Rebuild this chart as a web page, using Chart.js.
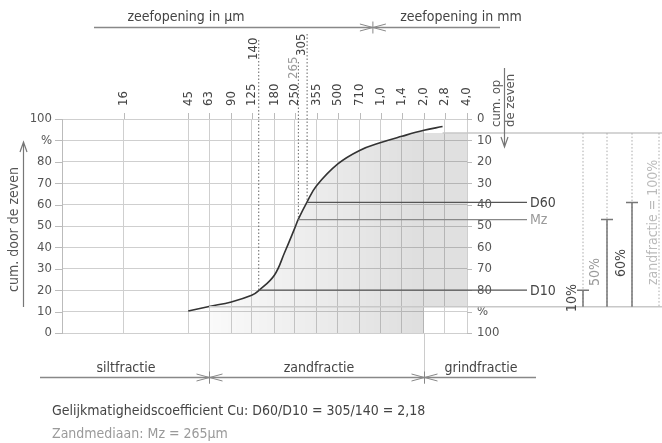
<!DOCTYPE html>
<html>
<head>
<meta charset="utf-8">
<script src="https://cdn.jsdelivr.net/npm/chart.js@4.4.1/dist/chart.umd.min.js"></script>
<style>
  body { margin: 0; background: #fff; }
  #wrap { width: 662px; height: 443px; position: relative; }
</style>
</head>
<body>
<div id="wrap"><canvas id="korrel"></canvas></div>
<script>
// zeefmaten (µm) en labels op de bovenas
const sieveSizes = [16, 45, 63, 90, 125, 180, 250, 355, 500, 710, 1000, 1400, 2000, 2800, 4000]
const sieveLabels = ['16', '45', '63', '90', '125', '180', '250', '355', '500', '710', '1,0', '1,4', '2,0', '2,8', '4,0']

// zeefkromme: cum. door de zeven (%)
const curveSize = [45, 63, 90, 125, 140, 180, 212, 250, 265, 305, 355, 500, 710, 1000, 1400, 2000, 2700]
const curvePassing = [10.3, 12.4, 14.5, 17.6, 19.8, 27, 37.5, 49, 53.2, 61.3, 68.8, 79, 85.3, 89, 91.9, 94.7, 96.5]

// karakteristieke korrelgroottes
const dNames = ['D10', 'Mz', 'D60']
const dSizes = [140, 265, 305]
const dPassing = [20, 53, 61]

// zandfractie kader (in % door de zeven)
const sandBottom = 12.3
const sandTop = 93.4
const barLabels = ['10%', '50%', '60%']
const barTops = [20, 53, 61]

const leftLabels = ['0', '10', '20', '30', '40', '50', '60', '70', '80', '%', '100']
const rightLabels = ['100', '%', '80', '70', '60', '50', '40', '30', '20', '10', '0']
const yTicks = [0, 10, 20, 30, 40, 50, 60, 70, 80, 90, 100]

const FONT = '"Liberation Sans Narrow", "DejaVu Sans Condensed", "Roboto", sans-serif'
const DARK = '#444'
const GREY = '#9a9a9a'

const font = (size) => size + 'px ' + FONT

function mark(ctx, x, y) {
  ctx.beginPath()
  ctx.moveTo(x, y - 6); ctx.lineTo(x, y + 6)
  ctx.moveTo(x - 13, y - 3.5); ctx.lineTo(x, y); ctx.lineTo(x - 13, y + 3.5)
  ctx.moveTo(x + 13, y - 3.5); ctx.lineTo(x, y); ctx.lineTo(x + 13, y + 3.5)
  ctx.stroke()
}

function vtext(ctx, txt, x, y, color, size) {
  ctx.save()
  ctx.translate(x, y)
  ctx.rotate(-Math.PI / 2)
  ctx.fillStyle = color
  ctx.font = font(size)
  ctx.textAlign = 'left'
  ctx.textBaseline = 'middle'
  ctx.fillText(txt, 0, 0)
  ctx.restore()
}

const drawing = {
  id: 'drawing',
  afterDatasetsDraw(chart) {
    const { ctx, chartArea: a, scales: { x, y } } = chart
    ctx.save()

    // tickjes rond de grafiek
    ctx.strokeStyle = '#bbb'
    ctx.lineWidth = 1
    ctx.beginPath()
    sieveSizes.forEach(v => {
      const px = Math.round(x.getPixelForValue(v)) + 0.5
      ctx.moveTo(px, a.top - 6); ctx.lineTo(px, a.top)
    })
    yTicks.forEach(v => {
      const py = Math.round(y.getPixelForValue(v)) + 0.5
      ctx.moveTo(a.left - 7, py); ctx.lineTo(a.left, py)
      ctx.moveTo(a.right, py); ctx.lineTo(a.right + 5, py)
    })
    ctx.stroke()

    // zeefmaten boven
    sieveSizes.forEach((v, i) => {
      vtext(ctx, sieveLabels[i], x.getPixelForValue(v), a.top - 13, DARK, 13)
    })

    // y labels links en rechts
    ctx.font = font(13)
    ctx.textBaseline = 'middle'
    yTicks.forEach((v, i) => {
      const py = y.getPixelForValue(v)
      ctx.fillStyle = '#555'
      ctx.textAlign = 'right'
      ctx.fillText(leftLabels[i], a.left - 10, py)
      ctx.textAlign = 'left'
      ctx.fillText(rightLabels[i], a.right + 10, py)
    })

    // gestippelde lijnen D10, Mz, D60
    const dTop = [40, 62, 34]
    const dLabelY = [60, 79, 56]
    ctx.setLineDash([1.5, 2])
    ctx.strokeStyle = '#666'
    dSizes.forEach((v, i) => {
      const px = x.getPixelForValue(v)
      ctx.beginPath()
      ctx.moveTo(px, dTop[i]); ctx.lineTo(px, y.getPixelForValue(dPassing[i]))
      ctx.stroke()
      vtext(ctx, String(v), px - 5, dLabelY[i], i === 1 ? GREY : DARK, 13)
    })
    ctx.setLineDash([])

    // horizontale lijnen naar D-labels
    ctx.lineWidth = 1.2
    dSizes.forEach((v, i) => {
      const py = y.getPixelForValue(dPassing[i])
      ctx.strokeStyle = i === 1 ? '#888' : '#555'
      ctx.beginPath()
      ctx.moveTo(x.getPixelForValue(v), py); ctx.lineTo(527, py)
      ctx.stroke()
      ctx.fillStyle = i === 1 ? GREY : DARK
      ctx.font = font(14)
      ctx.textAlign = 'left'
      ctx.fillText(dNames[i], 530, py + 1)
    })

    // zandfractie kader rechts
    const yb = y.getPixelForValue(sandBottom)
    const yt = y.getPixelForValue(sandTop)
    ctx.strokeStyle = '#c8c8c8'
    ctx.lineWidth = 1.5
    ctx.beginPath()
    ctx.moveTo(x.getPixelForValue(63), yb); ctx.lineTo(662, yb)
    ctx.moveTo(x.getPixelForValue(2700), yt); ctx.lineTo(662, yt)
    ctx.stroke()

    const barX = [583, 607, 632, 659]
    ctx.setLineDash([1.5, 2])
    ctx.strokeStyle = '#aaa'
    ctx.lineWidth = 1
    barX.forEach(bx => {
      ctx.beginPath(); ctx.moveTo(bx, yt); ctx.lineTo(bx, yb); ctx.stroke()
    })
    ctx.setLineDash([])
    ctx.strokeStyle = '#777'
    ctx.lineWidth = 1.5
    barTops.forEach((v, i) => {
      const py = y.getPixelForValue(v)
      ctx.beginPath()
      ctx.moveTo(barX[i], yb); ctx.lineTo(barX[i], py)
      ctx.moveTo(barX[i] - 6, py); ctx.lineTo(barX[i] + 6, py)
      ctx.stroke()
    })
    vtext(ctx, barLabels[0], 572, 312, DARK, 14)
    vtext(ctx, barLabels[1], 595, 286, GREY, 14)
    vtext(ctx, barLabels[2], 621, 277, DARK, 14)
    vtext(ctx, 'zandfractie = 100%', 653, 285, '#bbb', 14)

    // aslabels
    vtext(ctx, 'cum. door de zeven', 14, 292, '#555', 14)
    vtext(ctx, 'cum. op', 497, 127, '#555', 13)
    vtext(ctx, 'de zeven', 511, 127, '#555', 13)
    ctx.strokeStyle = '#777'
    ctx.lineWidth = 1.2
    ctx.beginPath()
    ctx.moveTo(23.5, 307); ctx.lineTo(23.5, 142)
    ctx.moveTo(20, 152); ctx.lineTo(23.5, 142); ctx.lineTo(27, 152)
    ctx.moveTo(504.5, 68); ctx.lineTo(504.5, 147)
    ctx.moveTo(501, 137); ctx.lineTo(504.5, 147); ctx.lineTo(508, 137)
    ctx.stroke()

    // zeefopening balk boven
    ctx.strokeStyle = '#888'
    ctx.lineWidth = 1.5
    ctx.beginPath(); ctx.moveTo(94, 27.5); ctx.lineTo(500, 27.5); ctx.stroke()
    ctx.lineWidth = 1
    mark(ctx, x.getPixelForValue(1000) - 8, 27.5)
    ctx.fillStyle = DARK
    ctx.font = font(14)
    ctx.textAlign = 'center'
    ctx.textBaseline = 'alphabetic'
    ctx.fillText('zeefopening in µm', 186, 21)
    ctx.fillText('zeefopening in mm', 461, 21)

    // fractiebalk onder
    const x63 = Math.round(x.getPixelForValue(63)) + 0.5
    const x2000 = Math.round(x.getPixelForValue(2000)) + 0.5
    ctx.strokeStyle = '#ccc'
    ctx.lineWidth = 1
    ctx.beginPath()
    ctx.moveTo(x63, a.bottom); ctx.lineTo(x63, 384)
    ctx.moveTo(x2000, a.bottom); ctx.lineTo(x2000, 384)
    ctx.stroke()
    ctx.strokeStyle = '#888'
    ctx.lineWidth = 1.5
    ctx.beginPath(); ctx.moveTo(40, 377.5); ctx.lineTo(536, 377.5); ctx.stroke()
    ctx.lineWidth = 1
    mark(ctx, x63, 377.5)
    mark(ctx, x2000, 377.5)
    ctx.fillStyle = DARK
    ctx.fillText('siltfractie', 126, 372)
    ctx.fillText('zandfractie', 319, 372)
    ctx.fillText('grindfractie', 481, 372)

    // onderschrift
    ctx.textAlign = 'left'
    ctx.fillStyle = DARK
    ctx.fillText('Gelijkmatigheidscoefficient Cu: D60/D10 = 305/140 = 2,18', 52, 415)
    ctx.fillStyle = GREY
    ctx.fillText('Zandmediaan: Mz = 265µm', 52, 438)

    ctx.restore()
  }
}

function shade(context) {
  const chart = context.chart
  const { ctx, chartArea } = chart
  if (!chartArea) return 'rgba(0,0,0,0.08)'
  const x = chart.scales.x
  const x0 = x.getPixelForValue(45)
  const x1 = x.getPixelForValue(4000)
  const f63 = (x.getPixelForValue(63) - x0) / (x1 - x0)
  const f2000 = (x.getPixelForValue(2000) - x0) / (x1 - x0)
  const g = ctx.createLinearGradient(x0, 0, x1, 0)
  g.addColorStop(0, 'rgba(0,0,0,0)')
  g.addColorStop(f63 - 0.001, 'rgba(0,0,0,0)')
  g.addColorStop(f63, 'rgba(0,0,0,0.02)')
  g.addColorStop(f2000, 'rgba(0,0,0,0.13)')
  g.addColorStop(f2000 + 0.001, 'rgba(0,0,0,0)')
  g.addColorStop(1, 'rgba(0,0,0,0)')
  return g
}

const ctx = document.getElementById('korrel').getContext('2d')
const chart = new Chart(ctx, {
  type: 'line',
  data: {
    datasets: [
      {
        label: 'zeefkromme',
        data: curveSize.map((s, i) => ({ x: s, y: curvePassing[i] })),
        borderColor: '#333',
        borderWidth: 1.6,
        pointRadius: 0,
        tension: 0.4,
        fill: 'origin',
        backgroundColor: shade
      },
      {
        label: 'grind',
        data: [{ x: 2000, y: sandTop }, { x: 4000, y: sandTop }],
        borderWidth: 0,
        pointRadius: 0,
        fill: { value: sandBottom },
        backgroundColor: 'rgba(0,0,0,0.12)'
      }
    ]
  },
  options: {
    responsive: true,
    maintainAspectRatio: false,
    animation: false,
    events: [],
    layout: { padding: { left: 62, right: 195, top: 119, bottom: 110 } },
    plugins: { legend: { display: false }, tooltip: { enabled: false } },
    scales: {
      x: {
        type: 'logarithmic',
        min: 5.9,
        max: 4000,
        afterBuildTicks: (scale) => { scale.ticks = sieveSizes.map(v => ({ value: v })) },
        ticks: { display: false },
        grid: { color: '#cfcfcf', drawTicks: false },
        border: { display: false }
      },
      y: {
        type: 'linear',
        min: 0,
        max: 100,
        afterBuildTicks: (scale) => { scale.ticks = yTicks.map(v => ({ value: v })) },
        ticks: { display: false },
        grid: { color: '#cfcfcf', drawTicks: false },
        border: { color: '#bbb' }
      }
    }
  },
  plugins: [drawing]
})
</script>
</body>
</html>
